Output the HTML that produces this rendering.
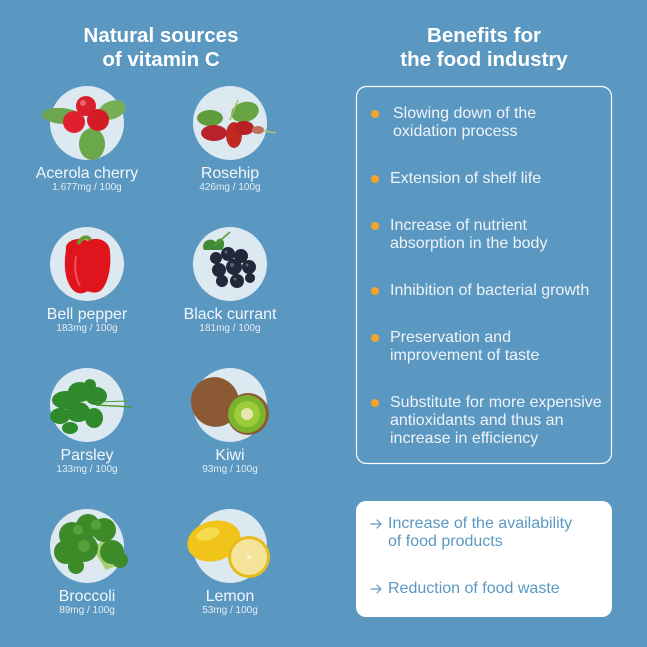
<!DOCTYPE html>
<html><head><meta charset="utf-8"><style>
html,body{margin:0;padding:0;}
body{width:647px;height:647px;background:#5b98c1;position:relative;overflow:hidden;font-family:"Liberation Sans",sans-serif;}
.t{position:absolute;white-space:nowrap;}
.h{color:#fff;font-weight:bold;font-size:20.5px;line-height:24px;text-align:center;}
.nm{color:#f2f6fa;font-size:15.9px;line-height:18px;text-align:center;width:160px;}
.sb{color:#e4edf4;font-size:10px;line-height:12px;text-align:center;width:160px;}
.b{color:#eef3f8;font-size:16px;line-height:18px;left:390px;}
.dot{position:absolute;width:8px;height:8px;border-radius:50%;background:#f5a42a;left:371px;}
.w{color:#5b98c1;font-size:16px;line-height:18px;}
svg{position:absolute;left:0;top:0;}
</style></head><body>
<svg width="647" height="647" viewBox="0 0 647 647">
<g fill="#dde9f1">
<circle cx="87" cy="123" r="37"/><circle cx="230" cy="123" r="37"/>
<circle cx="87" cy="264" r="37"/><circle cx="230" cy="264" r="37"/>
<circle cx="87" cy="405" r="37"/><circle cx="230" cy="405" r="37"/>
<circle cx="87" cy="546" r="37"/><circle cx="230" cy="546" r="37"/>
</g>
<!-- acerola -->
<ellipse cx="62" cy="116" rx="20" ry="8" fill="#6da64e" transform="rotate(5 62 116)"/>
<ellipse cx="112" cy="110" rx="14" ry="9" fill="#76b052" transform="rotate(-20 112 110)"/>
<ellipse cx="92" cy="144" rx="13" ry="16" fill="#6aa84a"/>
<circle cx="86" cy="106" r="10" fill="#d91f2b"/>
<circle cx="74" cy="122" r="11" fill="#e0202e"/>
<circle cx="98" cy="120" r="11" fill="#d41c28"/>
<circle cx="83" cy="103" r="3" fill="#f06070"/>
<!-- rosehip -->
<ellipse cx="210" cy="118" rx="13" ry="8" fill="#5f9a3c"/>
<ellipse cx="245" cy="112" rx="14" ry="10" fill="#66a444" transform="rotate(-15 245 112)"/>
<line x1="230" y1="120" x2="238" y2="100" stroke="#a8c060" stroke-width="1.5"/>
<line x1="260" y1="130" x2="276" y2="133" stroke="#b0c070" stroke-width="1.5"/>
<ellipse cx="214" cy="133" rx="13" ry="8" fill="#b8222a"/>
<ellipse cx="234" cy="135" rx="8" ry="13" fill="#c02a25"/>
<ellipse cx="244" cy="128" rx="10" ry="7" fill="#b82024"/>
<ellipse cx="258" cy="130" rx="6" ry="4" fill="#c07060"/>
<!-- bell pepper -->
<path d="M66 250 C64 240 80 236 88 241 C96 236 110 240 110 252 C112 270 106 290 98 292 C92 294 88 290 86 292 C80 295 74 293 70 286 C64 276 64 262 66 250 Z" fill="#e0141c"/>
<path d="M78 244 C82 236 88 236 90 240" stroke="#6a9a30" stroke-width="4" fill="none"/>
<path d="M76 256 C74 268 76 280 80 286" stroke="#f05058" stroke-width="2" fill="none"/>
<!-- black currant -->
<path d="M204 250 C200 242 210 236 216 242 C220 234 228 242 222 250 Z" fill="#3f8a34"/>
<line x1="214" y1="246" x2="230" y2="232" stroke="#5a9a3a" stroke-width="1.5"/>
<g fill="#22283a">
<circle cx="228" cy="254" r="7"/><circle cx="241" cy="256" r="7"/><circle cx="216" cy="258" r="6"/>
<circle cx="234" cy="267" r="8"/><circle cx="219" cy="270" r="7"/><circle cx="249" cy="267" r="7"/>
<circle cx="222" cy="281" r="6"/><circle cx="237" cy="281" r="7"/><circle cx="250" cy="278" r="5"/>
</g>
<g fill="#5a6378"><circle cx="226" cy="252" r="1.5"/><circle cx="232" cy="265" r="2"/><circle cx="247" cy="265" r="1.5"/><circle cx="235" cy="279" r="1.5"/></g>
<!-- parsley -->
<g fill="#2f8a2c">
<ellipse cx="66" cy="400" rx="14" ry="9"/><ellipse cx="80" cy="392" rx="12" ry="10"/>
<ellipse cx="96" cy="396" rx="11" ry="9"/><ellipse cx="60" cy="416" rx="10" ry="8"/>
<ellipse cx="78" cy="412" rx="12" ry="10"/><ellipse cx="94" cy="418" rx="9" ry="10"/>
<ellipse cx="70" cy="428" rx="8" ry="6"/><ellipse cx="90" cy="385" rx="6" ry="6"/>
</g>
<path d="M96 405 L132 407" stroke="#4c9a38" stroke-width="1.5"/>
<path d="M96 402 L128 401" stroke="#4c9a38" stroke-width="1"/>
<!-- kiwi -->
<ellipse cx="215" cy="402" rx="24" ry="25" fill="#8b5a34" transform="rotate(-20 215 402)"/>
<circle cx="248" cy="414" r="21" fill="#8b5a34"/>
<circle cx="247" cy="414" r="19" fill="#7cb32c"/>
<circle cx="247" cy="414" r="13" fill="#9dcc3a"/>
<circle cx="247" cy="414" r="6" fill="#e8e6b0"/>
<!-- broccoli -->
<path d="M92 548 L106 570 L116 566 L104 540 Z" fill="#a8d070"/>
<g fill="#3c8a28">
<circle cx="72" cy="535" r="13"/><circle cx="88" cy="526" r="12"/><circle cx="104" cy="530" r="12"/>
<circle cx="66" cy="552" r="12"/><circle cx="84" cy="548" r="14"/><circle cx="112" cy="552" r="12"/>
<circle cx="120" cy="560" r="8"/><circle cx="76" cy="566" r="8"/>
</g>
<g fill="#55a03a"><circle cx="78" cy="530" r="5"/><circle cx="96" cy="525" r="5"/><circle cx="84" cy="546" r="6"/></g>
<!-- lemon -->
<ellipse cx="214" cy="541" rx="27" ry="20" fill="#f0c418" transform="rotate(-15 214 541)"/>
<ellipse cx="208" cy="534" rx="12" ry="6" fill="#f8dc50" transform="rotate(-15 208 534)"/>
<circle cx="249" cy="557" r="21" fill="#e6bc1c"/>
<circle cx="249" cy="557" r="18" fill="#f6e39a"/>
<circle cx="249" cy="557" r="2" fill="#fff6d0"/>
<!-- boxes -->
<rect x="356.5" y="86.5" width="255" height="377" rx="10" fill="none" stroke="#fff" stroke-width="1.2"/>
<rect x="356" y="501" width="256" height="116" rx="10" fill="#fff"/>
<!-- arrows -->
<g stroke="#5b98c1" stroke-width="1.2" fill="none" stroke-linecap="round" stroke-linejoin="round">
<path d="M371 524 L381 524 M377 520 L381 524 L377 528"/>
<path d="M371 589 L381 589 M377 585 L381 589 L377 593"/>
</g>
</svg>

<div class="t h" style="left:61px;top:24px;width:200px;">Natural sources</div>
<div class="t h" style="left:61px;top:48px;width:200px;">of vitamin C</div>
<div class="t h" style="left:384px;top:24px;width:200px;">Benefits for</div>
<div class="t h" style="left:384px;top:48px;width:200px;">the food industry</div>

<div class="t nm" style="left:7px;top:165px;">Acerola cherry</div>
<div class="t sb" style="left:7px;top:182px;">1.677mg / 100g</div>
<div class="t nm" style="left:150px;top:165px;">Rosehip</div>
<div class="t sb" style="left:150px;top:182px;">426mg / 100g</div>

<div class="t nm" style="left:7px;top:306px;">Bell pepper</div>
<div class="t sb" style="left:7px;top:323px;">183mg / 100g</div>
<div class="t nm" style="left:150px;top:306px;">Black currant</div>
<div class="t sb" style="left:150px;top:323px;">181mg / 100g</div>

<div class="t nm" style="left:7px;top:447px;">Parsley</div>
<div class="t sb" style="left:7px;top:464px;">133mg / 100g</div>
<div class="t nm" style="left:150px;top:447px;">Kiwi</div>
<div class="t sb" style="left:150px;top:464px;">93mg / 100g</div>

<div class="t nm" style="left:7px;top:588px;">Broccoli</div>
<div class="t sb" style="left:7px;top:605px;">89mg / 100g</div>
<div class="t nm" style="left:150px;top:588px;">Lemon</div>
<div class="t sb" style="left:150px;top:605px;">53mg / 100g</div>

<div class="dot" style="top:110px;"></div>
<div class="t b" style="top:105px;left:393px;">Slowing down of the</div>
<div class="t b" style="top:123px;left:393px;">oxidation process</div>
<div class="dot" style="top:175px;"></div>
<div class="t b" style="top:170px;">Extension of shelf life</div>
<div class="dot" style="top:222px;"></div>
<div class="t b" style="top:217px;">Increase of nutrient</div>
<div class="t b" style="top:235px;">absorption in the body</div>
<div class="dot" style="top:287px;"></div>
<div class="t b" style="top:282px;">Inhibition of bacterial growth</div>
<div class="dot" style="top:334px;"></div>
<div class="t b" style="top:329px;">Preservation and</div>
<div class="t b" style="top:347px;">improvement of taste</div>
<div class="dot" style="top:399px;"></div>
<div class="t b" style="top:394px;">Substitute for more expensive</div>
<div class="t b" style="top:412px;">antioxidants and thus an</div>
<div class="t b" style="top:430px;">increase in efficiency</div>

<div class="t w" style="left:388px;top:515px;">Increase of the availability</div>
<div class="t w" style="left:388px;top:533px;">of food products</div>
<div class="t w" style="left:388px;top:580px;">Reduction of food waste</div>
</body></html>
